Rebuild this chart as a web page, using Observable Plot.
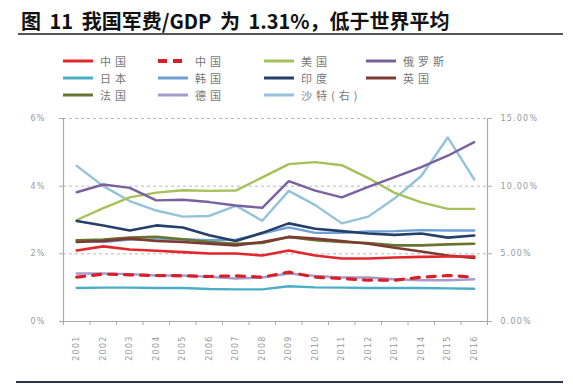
<!DOCTYPE html>
<html>
<head>
<meta charset="utf-8">
<script src="https://cdn.jsdelivr.net/npm/d3@7"></script>
<script src="https://cdn.jsdelivr.net/npm/@observablehq/plot@0.6"></script>
<style>
  html, body { margin: 0; padding: 0; background: #fff; }
  #root { position: relative; width: 573px; height: 388px; overflow: hidden; font-family: "Noto Sans CJK SC", sans-serif; }
  #title { position: absolute; left: 21px; top: 6px; font-size: 20px; font-weight: 700; color: #111; white-space: nowrap; word-spacing: 4px; }
  #rule-top { position: absolute; left: 18px; top: 33px; width: 545px; height: 2px; background: #555; }
  #rule-bottom { position: absolute; left: 16px; top: 381px; width: 547px; height: 2px; background: #2b3650; }
  #legend { position: absolute; left: 0; top: 0; }
  .lg { position: absolute; display: flex; align-items: center; font-size: 11px; color: #777; letter-spacing: 4px; white-space: nowrap; }
  .lg svg { margin-right: 6px; }
  #chart { position: absolute; left: 0; top: 100px; }
</style>
</head>
<body>
<div id="root">
  <div id="title">图 11 我国军费/GDP 为 1.31%，低于世界平均</div>
  <div id="rule-top"></div>
  <div id="legend"></div>
  <div id="chart"></div>
  <div id="rule-bottom"></div>
</div>
<script>
// ---- data ----
const years = [2001,2002,2003,2004,2005,2006,2007,2008,2009,2010,2011,2012,2013,2014,2015,2016];
const china         = [2.10,2.22,2.13,2.09,2.05,2.01,2.01,1.95,2.10,1.95,1.86,1.86,1.89,1.91,1.92,1.92];
const chinaOfficial = [1.31,1.40,1.38,1.36,1.35,1.33,1.35,1.31,1.46,1.31,1.27,1.22,1.22,1.31,1.36,1.31];
const usa     = [3.00,3.35,3.67,3.81,3.88,3.86,3.87,4.26,4.65,4.71,4.62,4.24,3.80,3.52,3.33,3.33];
const russia  = [3.82,4.05,3.95,3.58,3.60,3.53,3.43,3.36,4.15,3.87,3.67,3.98,4.27,4.56,4.90,5.30];
const japan   = [0.99,1.00,1.00,0.99,0.99,0.96,0.95,0.95,1.04,1.01,1.00,0.99,0.99,0.99,0.98,0.97];
const korea   = [2.40,2.35,2.42,2.42,2.43,2.40,2.42,2.60,2.78,2.62,2.62,2.66,2.67,2.70,2.69,2.69];
const india   = [2.97,2.84,2.69,2.84,2.78,2.55,2.38,2.62,2.90,2.74,2.67,2.60,2.56,2.60,2.48,2.54];
const uk      = [2.35,2.38,2.45,2.38,2.35,2.30,2.25,2.35,2.50,2.45,2.38,2.30,2.18,2.07,1.95,1.88];
const france  = [2.40,2.42,2.48,2.50,2.43,2.35,2.30,2.32,2.50,2.40,2.35,2.32,2.25,2.25,2.28,2.30];
const germany = [1.42,1.42,1.40,1.36,1.36,1.32,1.27,1.30,1.42,1.35,1.30,1.30,1.25,1.22,1.22,1.25];
const saudi   = [11.5,10.0,8.9,8.2,7.75,7.8,8.55,7.45,9.65,8.6,7.25,7.75,9.1,10.75,13.6,10.5]; // right axis
const leftTicks  = [0,2,4,6];
const rightRatio = 2.5; // right axis value = left value * 2.5

const series = [
  {name:"中国",   values: china,         color:"#e3262b", width:2.6},
  {name:"中国",   values: chinaOfficial, color:"#d8202a", width:3.2, dash:"8,8"},
  {name:"美国",   values: usa,           color:"#a5c15a", width:2.4},
  {name:"俄罗斯", values: russia,        color:"#7a609f", width:2.4},
  {name:"日本",   values: japan,         color:"#4aaec6", width:2.4},
  {name:"韩国",   values: korea,         color:"#6f9fd6", width:2.4},
  {name:"印度",   values: india,         color:"#24406a", width:2.6},
  {name:"英国",   values: uk,            color:"#7c3a33", width:2.6},
  {name:"法国",   values: france,        color:"#66752f", width:2.6},
  {name:"德国",   values: germany,       color:"#a79bcc", width:2.4},
  {name:"沙特(右)", values: saudi,       color:"#93c3da", width:2.4, right:true}
];

// ---- legend ----
const legendCols = [62, 157, 263, 365];
const legendRows = [61, 78, 95];
const legend = document.getElementById("legend");
series.forEach((s, i) => {
  const col = i % 4, row = Math.floor(i / 4);
  const d = document.createElement("div");
  d.className = "lg";
  d.style.left = legendCols[col] + "px";
  d.style.top = (legendRows[row] - 8) + "px";
  d.innerHTML = `<svg width="32" height="16"><line x1="1" y1="8" x2="31" y2="8" stroke="${s.color}" stroke-width="${s.dash ? 4 : 3}" ${s.dash ? 'stroke-dasharray="9,6"' : ''}/></svg><span>${s.name}</span>`;
  legend.appendChild(d);
});

// ---- chart ----
const drawOrder = [10,2,3,4,9,5,6,8,7,0,1];
const lineMarks = drawOrder.map(i => {
  const s = series[i];
  const rows = years.map((yr, k) => ({year: yr, v: s.right ? s.values[k] / rightRatio : s.values[k]}));
  return Plot.line(rows, {x: "year", y: "v", stroke: s.color, strokeWidth: s.width, strokeDasharray: s.dash, curve: "linear"});
});
const bounds = d3.range(years[0] - 0.5, years[years.length - 1] + 1, 1);

const chart = Plot.plot({
  width: 573,
  height: 280,
  marginTop: 18,
  marginBottom: 59,
  marginLeft: 63,
  marginRight: 86,
  style: {fontFamily: "DejaVu Sans", fontSize: "8px", color: "#999", letterSpacing: "1.2px", background: "transparent"},
  x: {domain: [years[0] - 0.5, years[years.length - 1] + 0.5]},
  y: {domain: [0, 6]},
  marks: [
    Plot.ruleY([2,4,6], {stroke: "#b8b8b8", strokeDasharray: "3,3", strokeWidth: 1}),
    Plot.ruleY([0], {stroke: "#aaa", strokeWidth: 1.2}),
    Plot.ruleX([bounds[0], bounds[bounds.length - 1]], {stroke: "#aaa", strokeWidth: 1.2}),
    Plot.axisY({ticks: leftTicks, anchor: "left", tickSize: 4, tickPadding: 14, tickFormat: d => d + "%", label: null, stroke: "#aaa"}),
    Plot.axisY({ticks: leftTicks, anchor: "right", tickSize: 4, tickPadding: 9, tickFormat: d => (d * rightRatio).toFixed(2) + "%", label: null, stroke: "#aaa"}),
    Plot.axisX({ticks: bounds, tickSize: 4, tickFormat: () => "", label: null, stroke: "#aaa"}),
    Plot.axisX({ticks: years, tickSize: 0, tickPadding: 14, tickRotate: -90, tickFormat: d => String(d), label: null}),
    ...lineMarks
  ]
});
document.getElementById("chart").appendChild(chart);
</script>
</body>
</html>
